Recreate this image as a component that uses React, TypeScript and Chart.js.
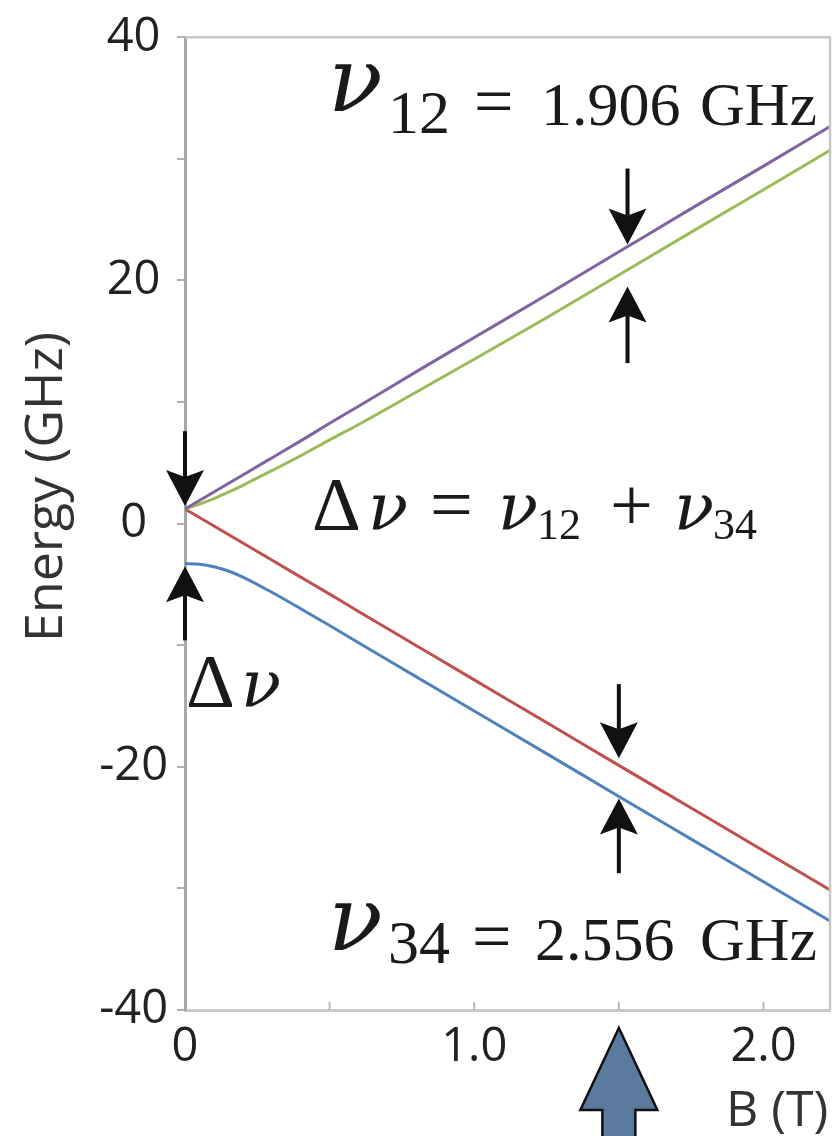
import React, { useEffect, useRef } from 'react';
import { Chart, registerables } from 'chart.js';

Chart.register(...registerables);

// Magnetic field (T) at which each level energy is tabulated
const fieldT = [0, 0.05, 0.1, 0.15, 0.2, 0.3, 0.4, 0.5, 0.6, 0.8, 1.0, 1.25, 1.5, 1.75, 2.0, 2.23];

// Level energies (GHz)
const level1 = [1.2, 1.9, 2.6, 3.3, 4.0, 5.4, 6.8, 8.25, 9.65, 12.5, 15.3, 18.8, 22.35, 25.9, 29.4, 32.65];
const level2 = [1.2, 1.6, 2.05, 2.58, 3.15, 4.35, 5.58, 6.88, 8.15, 10.82, 13.51, 16.93, 20.444, 23.97, 27.455, 30.695];
const level3 = [1.2, 0.5, -0.2, -0.9, -1.6, -3.0, -4.4, -5.8, -7.23, -10.04, -12.85, -16.36, -19.88, -23.39, -26.9, -30.13];
const level4 = [-3.3, -3.35, -3.55, -3.9, -4.4, -5.65, -7.0, -8.38, -9.8, -12.605, -15.41, -18.918, -22.436, -25.945, -29.454, -32.683];

const seriesNames = ['|1⟩', '|2⟩', '|3⟩', '|4⟩'];
const seriesColors = ['#8064A2', '#9BBB59', '#C0504D', '#4F81BD'];

// Axis ticks
const yTickStep = 10;
const yLabelStep = 20;
const xTickStep = 0.5;
const xRange = [0, 2.23];
const yRange = [-40, 40];

const SERIF = '"Liberation Serif", "DejaVu Serif", serif';
const GREEK = '"DejaVu Serif", "Liberation Serif", serif';
const SANS = '"Open Sans", "Noto Sans", sans-serif';

// Black splitting markers: [B (T), tail energy, tip energy]
const splitMarkers: [number, number, number][] = [
  [0, 7.6, 1.45],
  [0, -9.6, -3.5],
  [1.53, 29.2, 22.95],
  [1.53, 13.2, 19.5],
  [1.5, -13.2, -19.3],
  [1.5, -28.75, -22.6],
];
const operatingField = 1.5;

function vArrow(
  ctx: CanvasRenderingContext2D,
  x: number,
  yTail: number,
  yTip: number,
  shaft: number,
  headW: number,
  headL: number,
  notch: number
) {
  const dir = yTip > yTail ? 1 : -1;
  const yBase = yTip - dir * headL;
  ctx.fillStyle = '#111';
  ctx.fillRect(x - shaft / 2, Math.min(yTail, yBase + dir * notch), shaft, Math.abs(yBase + dir * notch - yTail));
  ctx.beginPath();
  ctx.moveTo(x, yTip);
  ctx.lineTo(x - headW / 2, yBase);
  ctx.lineTo(x, yBase + dir * notch);
  ctx.lineTo(x + headW / 2, yBase);
  ctx.closePath();
  ctx.fill();
}

function drawText(ctx: CanvasRenderingContext2D, text: string, x: number, y: number, font: string) {
  ctx.font = font;
  ctx.fillText(text, x, y);
}

const decorations = {
  id: 'decorations',
  afterDatasetsDraw(chart: any) {
    const { ctx, chartArea: ca } = chart;
    const xs = chart.scales.x;
    const ys = chart.scales.y;
    ctx.save();

    // frame on the top and right
    ctx.strokeStyle = '#c8c8c8';
    ctx.lineWidth = 2.5;
    ctx.beginPath();
    ctx.moveTo(ca.left, ca.top);
    ctx.lineTo(ca.right, ca.top);
    ctx.lineTo(ca.right, ca.bottom);
    ctx.stroke();

    // inward tick marks on the field axis
    ctx.strokeStyle = '#b8b8b8';
    ctx.lineWidth = 2;
    xs.ticks.forEach((t: any) => {
      const r = t.value / xTickStep;
      if (Math.abs(r - Math.round(r)) > 1e-6 || t.value === 0) return;
      const px = xs.getPixelForValue(t.value);
      ctx.beginPath();
      ctx.moveTo(px, ca.bottom);
      ctx.lineTo(px, ca.bottom - 8);
      ctx.stroke();
    });

    // splitting markers
    splitMarkers.forEach(([b, e0, e1]) => {
      vArrow(ctx, xs.getPixelForValue(b), ys.getPixelForValue(e0), ys.getPixelForValue(e1), 4, 38, 36, 7);
    });

    // operating-field arrow below the axis
    const ax = xs.getPixelForValue(operatingField);
    const top = ca.bottom + 18;
    const hl = 82, hw = 38.5, sw = 16.5;
    ctx.beginPath();
    ctx.moveTo(ax, top);
    ctx.lineTo(ax - hw, top + hl);
    ctx.lineTo(ax - sw, top + hl);
    ctx.lineTo(ax - sw, chart.height + 5);
    ctx.lineTo(ax + sw, chart.height + 5);
    ctx.lineTo(ax + sw, top + hl);
    ctx.lineTo(ax + hw, top + hl);
    ctx.closePath();
    ctx.fillStyle = '#5a7a9e';
    ctx.fill();
    ctx.strokeStyle = '#111';
    ctx.lineWidth = 2.5;
    ctx.stroke();

    // axis titles
    ctx.fillStyle = '#333';
    ctx.textAlign = 'center';
    ctx.textBaseline = 'alphabetic';
    ctx.save();
    ctx.translate(62, 487);
    ctx.rotate(-Math.PI / 2);
    drawText(ctx, 'Energy (GHz)', 0, 0, `52px ${SANS}`);
    ctx.restore();
    ctx.textAlign = 'left';
    drawText(ctx, 'B (T)', 726, 1126, `50px ${SANS}`);

    // formula annotations
    ctx.fillStyle = '#1a1a1a';
    const big = `76px ${SERIF}`;
    const nuMid = `italic 66px ${GREEK}`;
    const sub = `44px ${SERIF}`;
    const mid = `62px ${SERIF}`;
    const nuBig = `italic 90px ${GREEK}`;

    // top: nu_12 = 1.906 GHz
    drawText(ctx, 'ν', 328, 111, nuBig);
    drawText(ctx, '12', 388, 133, mid);
    drawText(ctx, '=', 474, 125, `70px ${SERIF}`);
    drawText(ctx, '1.906', 541, 125, mid);
    drawText(ctx, 'GHz', 700, 125, mid);

    // middle: Delta nu = nu_12 + nu_34
    drawText(ctx, 'Δ', 312, 530, big);
    drawText(ctx, 'ν', 368, 530, nuMid);
    drawText(ctx, '=', 430, 530, big);
    drawText(ctx, 'ν', 498, 530, nuMid);
    drawText(ctx, '12', 537, 539, sub);
    drawText(ctx, '+', 610, 530, big);
    drawText(ctx, 'ν', 674, 530, nuMid);
    drawText(ctx, '34', 713, 539, sub);

    // left: Delta nu
    drawText(ctx, 'Δ', 186, 707, big);
    drawText(ctx, 'ν', 241, 707, nuMid);

    // bottom: nu_34 = 2.556 GHz
    drawText(ctx, 'ν', 328, 950, nuBig);
    drawText(ctx, '34', 388, 963, mid);
    drawText(ctx, '=', 472, 960, `70px ${SERIF}`);
    drawText(ctx, '2.556', 535, 960, mid);
    drawText(ctx, 'GHz', 700, 960, mid);

    ctx.restore();
  },
};

export default function App() {
  const ref = useRef<HTMLCanvasElement>(null);

  useEffect(() => {
    const levels = [level1, level2, level3, level4];
    const chart = new Chart(ref.current as HTMLCanvasElement, {
      type: 'line',
      data: {
        datasets: levels.map((lv, i) => ({
          label: seriesNames[i],
          data: fieldT.map((b, k) => ({ x: b, y: lv[k] })),
          borderColor: seriesColors[i],
          borderWidth: 3,
          pointRadius: 0,
          fill: false,
          cubicInterpolationMode: 'monotone' as const,
        })),
      },
      options: {
        animation: false,
        responsive: false,
        devicePixelRatio: 1,
        layout: { padding: { left: 0, right: 2, top: 35, bottom: 0 } },
        plugins: { legend: { display: false }, tooltip: { enabled: false } },
        scales: {
          x: {
            type: 'linear',
            min: xRange[0],
            max: xRange[1],
            afterFit: (s: any) => {
              s.height = 126;
            },
            grid: { display: false },
            border: { display: true, color: '#c8c8c8', width: 3 },
            ticks: {
              stepSize: xTickStep,
              autoSkip: false,
              maxRotation: 0,
              includeBounds: false,
              padding: 1,
              color: '#222',
              font: { family: SANS, size: 47 },
              callback: (v: any) => {
                const n = Number(v);
                if (n === 0) return '0';
                return Math.abs(n - Math.round(n)) < 1e-9 ? n.toFixed(1) : '';
              },
            },
          },
          y: {
            type: 'linear',
            min: yRange[0],
            max: yRange[1],
            afterFit: (s: any) => {
              s.width = 185;
            },
            grid: { display: true, drawOnChartArea: false, drawTicks: true, tickLength: 8, color: '#b0b0b0', lineWidth: 2 },
            border: { display: true, color: '#a8a8a8', width: 3 },
            ticks: {
              stepSize: yTickStep,
              crossAlign: 'center',
              padding: 9,
              color: '#222',
              font: { family: SANS, size: 47 },
              callback: (v: any) => (Number(v) % yLabelStep === 0 ? String(v) : ''),
            },
          },
        },
      },
      plugins: [decorations],
    } as any);
    return () => chart.destroy();
  }, []);

  return (
    <div style={{ position: 'fixed', left: 0, top: 0, width: 832, height: 1136, background: '#fff' }}>
      <canvas ref={ref} width={832} height={1136} style={{ display: 'block', width: 832, height: 1136 }} />
    </div>
  );
}
